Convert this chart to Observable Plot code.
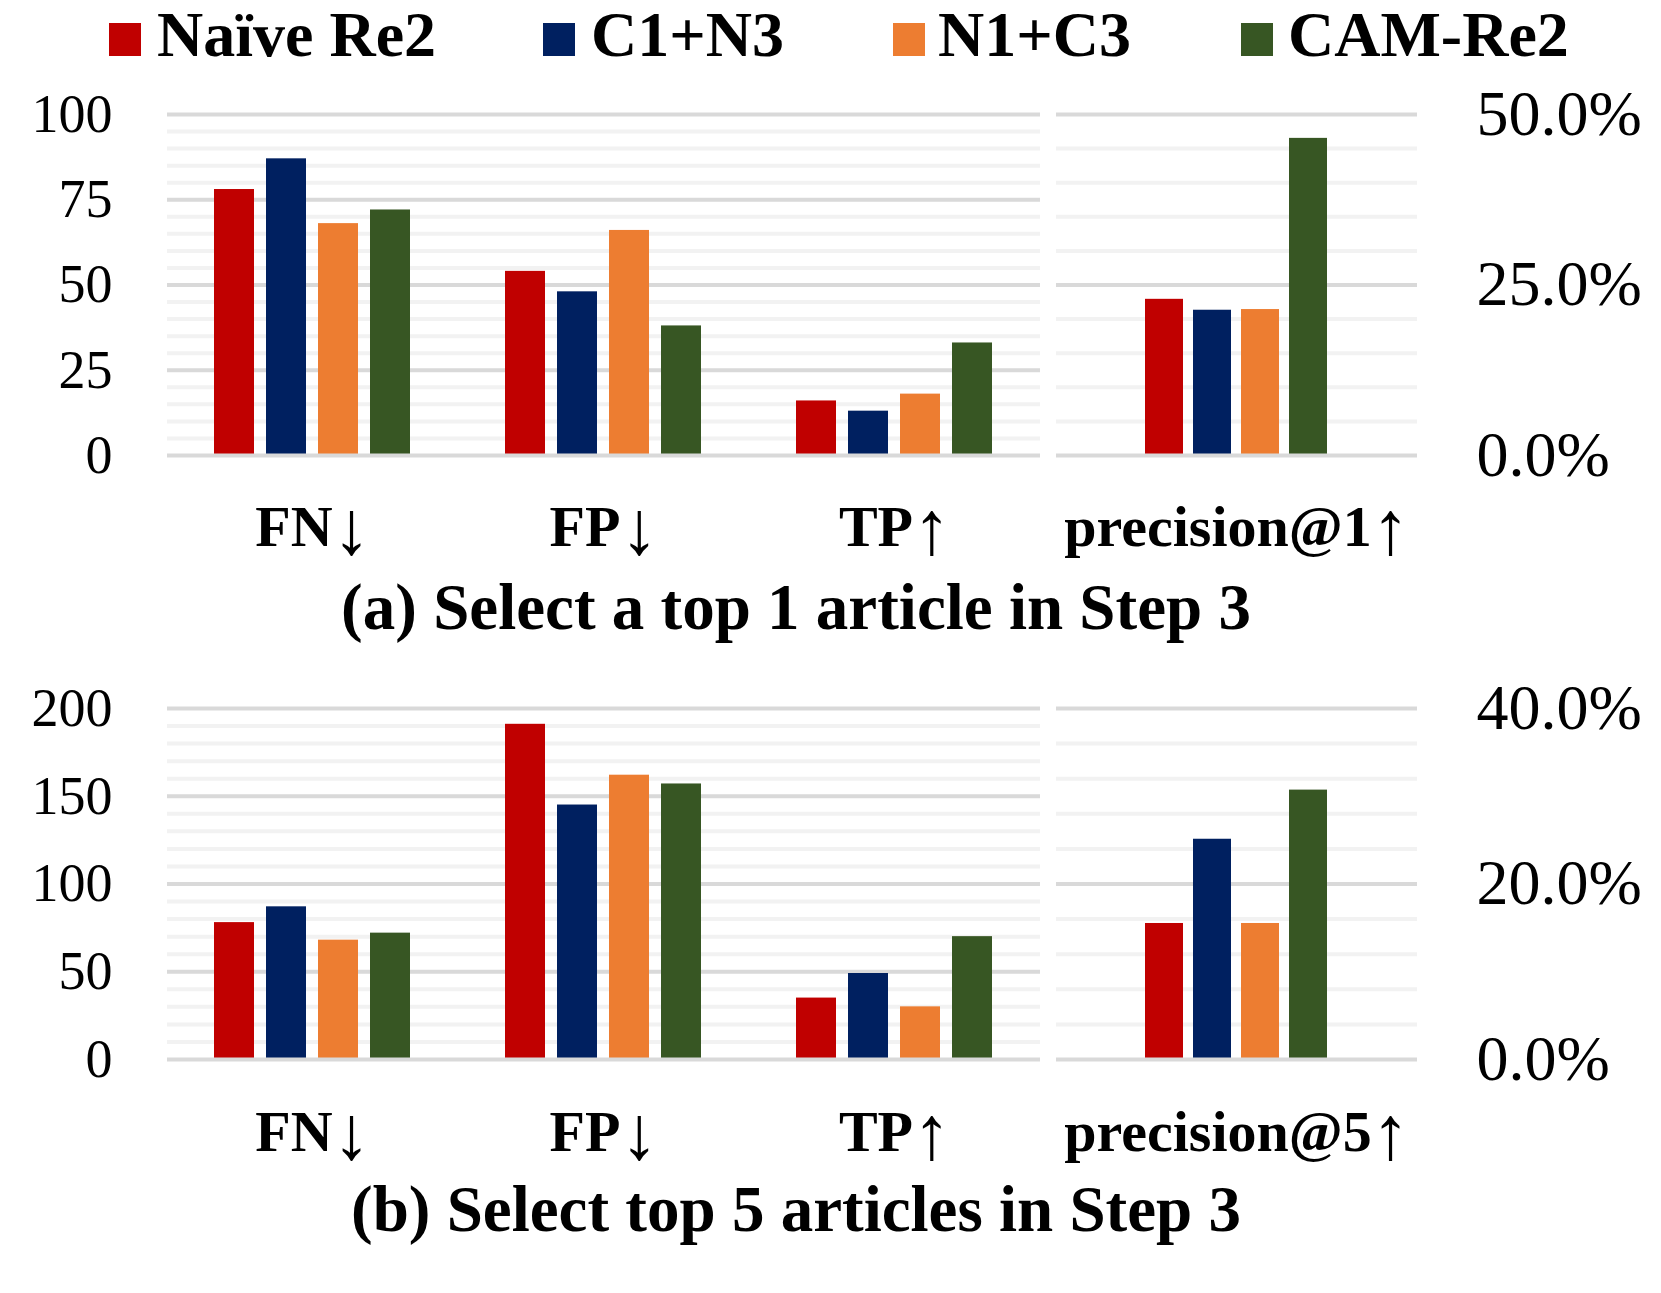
<!DOCTYPE html>
<html>
<head>
<meta charset="utf-8">
<script src="https://cdn.jsdelivr.net/npm/d3@7"></script>
<script src="https://cdn.jsdelivr.net/npm/@observablehq/plot@0.6"></script>
<style>
  body { margin: 0; background: #fff; }
  #root { position: relative; width: 1661px; height: 1293px; font-family: "Liberation Serif", "Times New Roman", serif; color: #000; overflow: hidden; }
  .sw { position: absolute; width: 32px; height: 33px; }
  .ltx { position: absolute; font-size: 64px; line-height: 64px; font-weight: bold; white-space: nowrap; }
  .title { position: absolute; font-size: 65px; line-height: 65px; font-weight: bold; white-space: nowrap; transform: translateX(-50%); }
  .chart { position: absolute; }
  .chart svg { max-width: none !important; }
  .chart svg [aria-label^="y-axis"] text { font-size: 54px; fill: #000; }
  .chart.right svg [aria-label^="y-axis"] text { font-size: 64px; }
  .chart svg [aria-label^="fx-axis"] text { font-size: 58px; font-weight: bold; fill: #000; }
  .chart svg tspan.arrow { font-size: 76px; font-weight: 400; }
</style>
</head>
<body>
<div id="root"></div>
<script>
// ---- data ----
const methods = ["Naïve Re2", "C1+N3", "N1+C3", "CAM-Re2"];
const methodColors = ["#C00000", "#002060", "#ED7D31", "#375623"];
const countMetrics = ["FN↓", "FP↓", "TP↑"];

const top1FN = [78, 87, 68, 72];
const top1FP = [54, 48, 66, 38];
const top1TP = [16, 13, 18, 33];
const top1Precision = [0.229, 0.213, 0.214, 0.465];

const top5FN = [78, 87, 68, 72];
const top5FP = [191, 145, 162, 157];
const top5TP = [35, 49, 30, 70];
const top5Precision = [0.155, 0.251, 0.155, 0.307];

const top1CountTicks = [0, 25, 50, 75, 100];
const top1PctTicks = [0, 0.25, 0.5];
const top5CountTicks = [0, 50, 100, 150, 200];
const top5PctTicks = [0, 0.2, 0.4];

const titleA = "(a) Select a top 1 article in Step 3";
const titleB = "(b) Select top 5 articles in Step 3";
const precLabelA = "precision@1↑";
const precLabelB = "precision@5↑";

// ---- helpers ----
const root = document.getElementById("root");
const FONT = '"Liberation Serif", "Times New Roman", serif';

function gridLines(ticks, perMajor) {
  const yMax = ticks[ticks.length - 1];
  const n = (ticks.length - 1) * perMajor;
  return d3.range(0, n + 1).filter(i => i % perMajor !== 0).map(i => i * yMax / n);
}

// render the trailing arrow of each category label as a taller, thinner glyph
function styleArrows(svg) {
  d3.select(svg).selectAll('[aria-label^="fx-axis"] text').each(function () {
    const t = this.textContent;
    const last = t.slice(-1);
    if (last !== "↓" && last !== "↑") return;
    const base = t.slice(0, -1);
    this.textContent = "";
    d3.select(this).append("tspan").text(base);
    d3.select(this).append("tspan").attr("class", "arrow").attr("dy", 8).text(last);
  });
}

function place(svg, left, top, width, cls) {
  styleArrows(svg);
  const div = document.createElement("div");
  div.className = "chart " + (cls || "");
  div.style.left = left + "px";
  div.style.top = top + "px";
  div.style.width = width + "px";
  div.appendChild(svg);
  root.appendChild(div);
}

function countChart(series, ticks, perMajor, marginTop, plotH, tickPad) {
  const rows = [];
  countMetrics.forEach((m, i) => methods.forEach((s, j) => rows.push({metric: m, method: s, value: series[i][j]})));
  const yMax = ticks[ticks.length - 1];
  return Plot.plot({
    width: 1045,
    height: marginTop + plotH + 110,
    marginLeft: 166, marginRight: 5, marginTop: marginTop, marginBottom: 110,
    style: {fontFamily: FONT, background: "transparent", overflow: "visible"},
    fx: {domain: countMetrics, padding: 0, axis: "bottom", label: null, tickSize: 0, tickPadding: tickPad},
    x: {domain: methods, paddingInner: 0.2264, paddingOuter: 0.862, axis: null},
    y: {domain: [0, yMax], ticks: ticks, tickSize: 0, tickPadding: 55, label: null},
    color: {domain: methods, range: methodColors},
    marks: [
      Plot.ruleY(gridLines(ticks, perMajor), {stroke: "#F2F2F2", strokeWidth: 4}),
      Plot.ruleY(ticks.slice(1), {stroke: "#D9D9D9", strokeWidth: 4}),
      Plot.barY(rows, {fx: "metric", x: "method", y: "value", fill: "method"}),
      Plot.ruleY([0], {stroke: "#D9D9D9", strokeWidth: 4})
    ]
  });
}

function pctChart(values, label, ticks, perMajor, marginTop, plotH, tickPad) {
  const rows = methods.map((s, j) => ({metric: label, method: s, value: values[j]}));
  const yMax = ticks[ticks.length - 1];
  return Plot.plot({
    width: 611,
    height: marginTop + plotH + 110,
    marginLeft: 6, marginRight: 244, marginTop: marginTop, marginBottom: 110,
    style: {fontFamily: FONT, background: "transparent", overflow: "visible"},
    fx: {domain: [label], padding: 0, axis: "bottom", label: null, tickSize: 0, tickPadding: tickPad},
    x: {domain: methods, paddingInner: 0.204, paddingOuter: 1.786, axis: null},
    y: {domain: [0, yMax], axis: "right", ticks: ticks, tickFormat: d3.format(".1%"), tickSize: 0, tickPadding: 59, label: null},
    color: {domain: methods, range: methodColors},
    marks: [
      Plot.ruleY(gridLines(ticks, perMajor), {stroke: "#F2F2F2", strokeWidth: 4}),
      Plot.ruleY(ticks.slice(1), {stroke: "#D9D9D9", strokeWidth: 4}),
      Plot.barY(rows, {fx: "metric", x: "method", y: "value", fill: "method"}),
      Plot.ruleY([0], {stroke: "#D9D9D9", strokeWidth: 4})
    ]
  });
}

// ---- legend ----
const legendSwatchX = [109, 543, 893, 1241];
const legendTextX = [157, 591, 938, 1288];
methods.forEach((m, i) => {
  const sw = document.createElement("div");
  sw.className = "sw";
  sw.style.left = legendSwatchX[i] + "px";
  sw.style.top = "23px";
  sw.style.background = methodColors[i];
  root.appendChild(sw);
  const tx = document.createElement("div");
  tx.className = "ltx";
  tx.style.left = legendTextX[i] + "px";
  tx.style.top = "3px";
  tx.textContent = m;
  root.appendChild(tx);
});

// ---- panel (a) ----
place(countChart([top1FN, top1FP, top1TP], top1CountTicks, 5, 34, 341, 49), 0, 80, 1045);
place(pctChart(top1Precision, precLabelA, top1PctTicks, 5, 34, 341, 49), 1050, 80, 611, "right");
const tA = document.createElement("div");
tA.className = "title"; tA.style.left = "796px"; tA.style.top = "575px"; tA.textContent = titleA;
root.appendChild(tA);

// ---- panel (b) ----
place(countChart([top5FN, top5FP, top5TP], top5CountTicks, 5, 38, 351, 50), 0, 670, 1045);
place(pctChart(top5Precision, precLabelB, top5PctTicks, 5, 38, 351, 50), 1050, 670, 611, "right");
const tB = document.createElement("div");
tB.className = "title"; tB.style.left = "796px"; tB.style.top = "1177px"; tB.textContent = titleB;
root.appendChild(tB);
</script>
</body>
</html>
